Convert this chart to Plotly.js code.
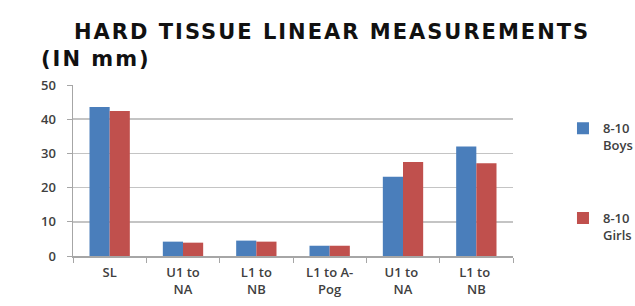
<!DOCTYPE html>
<html><head><meta charset="utf-8">
<script src="https://cdn.plot.ly/plotly-3.0.1.min.js"></script>
<style>html,body{margin:0;padding:0;background:#fff}#c{width:635px;height:306px}
.annotation-text{letter-spacing:2px}</style>
</head><body><div id="c"></div>
<script>
const categories = ["SL", "U1 to<br>NA", "L1 to<br>NB", "L1 to A-<br>Pog", "U1 to <br>NA", "L1 to <br>NB"];
const boys = [43.6, 4.2, 4.5, 3.0, 23.2, 32.0];
const girls = [42.4, 3.9, 4.2, 3.0, 27.5, 27.1];
const seriesNames = ["8-10<br>Boys", "8-10<br>Girls"];
const yTicks = [0, 10, 20, 30, 40, 50];
const titleLines = ["HARD TISSUE LINEAR MEASUREMENTS", "(IN mm)"];

const tickFont = {family: "Open Sans, sans-serif", size: 13, color: "#404040", weight: 600};
const data = [
  {type: "bar", x: categories, y: boys, name: seriesNames[0], legendgroup: "a", marker: {color: "#4a7ebb"}},
  {type: "bar", x: categories, y: girls, name: seriesNames[1], legendgroup: "b", marker: {color: "#c0504d"}}
];
const layout = {
  width: 635, height: 306,
  margin: {l: 73, r: 122, t: 85, b: 50, autoexpand: false},
  paper_bgcolor: "#fff", plot_bgcolor: "#fff",
  barmode: "group", bargap: 0.45, bargroupgap: 0,
  showlegend: true,
  legend: {x: 1.1136, y: 0.835, xanchor: "left", yanchor: "top", valign: "top",
           font: {family: "Open Sans, sans-serif", size: 13, color: "#404040", weight: 600},
           tracegroupgap: 53, traceorder: "grouped", itemwidth: 30},
  xaxis: {type: "category", tickfont: tickFont, showline: true, linecolor: "#a6a6a6", linewidth: 1.5,
          ticks: "outside", tickson: "boundaries", ticklen: 5, tickcolor: "#a6a6a6", showgrid: false,
          ticklabelstandoff: 4},
  yaxis: {range: [0, 50], tickvals: yTicks, tickfont: tickFont, showline: true, linecolor: "#a6a6a6", linewidth: 1.5,
          ticks: "outside", ticklen: 5, tickcolor: "#a6a6a6", gridcolor: "#c4c4c4", gridwidth: 1.5, zeroline: false,
          ticklabelstandoff: 8},
  annotations: [
    {xref: "paper", yref: "paper", x: 0.589, y: 1.312, xanchor: "center", yanchor: "middle", showarrow: false,
     text: "<b>" + titleLines[0] + "</b>", font: {family: "DejaVu Sans, sans-serif", size: 21, color: "#111"}},
    {xref: "paper", yref: "paper", x: 0.052, y: 1.15, xanchor: "center", yanchor: "middle", showarrow: false,
     text: "<b>" + titleLines[1] + "</b>", font: {family: "DejaVu Sans, sans-serif", size: 21, color: "#111"}}
  ]
};
Plotly.newPlot("c", data, layout, {displayModeBar: false, staticPlot: true});
</script></body></html>
